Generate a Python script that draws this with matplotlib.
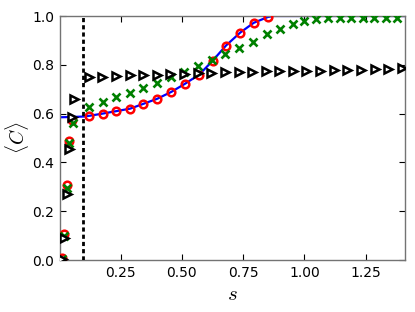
import matplotlib
matplotlib.use("Agg")
import matplotlib.pyplot as plt

plt.rcParams['mathtext.fontset'] = 'cm'
plt.rcParams['font.family'] = 'DejaVu Sans'

# ── Data ──────────────────────────────────────────────────────────────────────
# blue curve
s_line = [0.003, 0.05, 0.10, 0.123, 0.177, 0.232, 0.288, 0.343, 0.400, 0.457,
          0.514, 0.571, 0.625, 0.680, 0.738, 0.793, 0.851, 0.875, 1.42]
c_line = [0.585, 0.586, 0.588, 0.591, 0.600, 0.610, 0.620, 0.640, 0.661, 0.689,
          0.723, 0.760, 0.816, 0.879, 0.932, 0.972, 0.996, 1.000, 1.000]

# red circles
s_circ = [0.011, 0.021, 0.031, 0.041, 0.053, 0.123, 0.177, 0.232, 0.288, 0.343,
          0.400, 0.457, 0.514, 0.571, 0.625, 0.680, 0.738, 0.793, 0.851]
c_circ = [0.010, 0.105, 0.307, 0.487, 0.573, 0.591, 0.600, 0.610, 0.619, 0.640,
          0.661, 0.689, 0.723, 0.760, 0.816, 0.879, 0.932, 0.972, 0.996]

# green crosses
s_cross = [0.011, 0.021, 0.031, 0.041, 0.056, 0.120, 0.177, 0.232, 0.288, 0.343,
           0.400, 0.455, 0.509, 0.564, 0.621, 0.677, 0.732, 0.789, 0.846, 0.900,
           0.955, 0.998, 1.045, 1.095, 1.143, 1.190, 1.238, 1.285, 1.333, 1.378]
c_cross = [0.003, 0.098, 0.295, 0.480, 0.560, 0.628, 0.648, 0.666, 0.686, 0.704,
           0.726, 0.750, 0.771, 0.795, 0.819, 0.843, 0.869, 0.894, 0.925, 0.946,
           0.967, 0.980, 0.988, 0.990, 0.991, 0.991, 0.991, 0.991, 0.991, 0.991]

# black triangles
s_tri = [0.012, 0.019, 0.031, 0.039, 0.052, 0.060, 0.120, 0.176, 0.231, 0.287,
         0.342, 0.398, 0.453, 0.509, 0.564, 0.620, 0.675, 0.731, 0.786, 0.842,
         0.897, 0.953, 1.008, 1.064, 1.119, 1.175, 1.230, 1.286, 1.341, 1.397]
c_tri = [0.003, 0.091, 0.270, 0.453, 0.587, 0.659, 0.748, 0.750, 0.753, 0.757,
         0.757, 0.760, 0.762, 0.764, 0.765, 0.767, 0.769, 0.771, 0.772, 0.773,
         0.773, 0.774, 0.775, 0.776, 0.777, 0.778, 0.779, 0.781, 0.783, 0.786]

s_cut = 0.097

# ── Figure ────────────────────────────────────────────────────────────────────
fig = plt.figure(figsize=(4.15, 3.12), dpi=100)
ax = fig.add_axes([60 / 415, 52 / 312, 345 / 415, 244 / 312])

ax.plot(s_line, c_line, color='blue', lw=1.6, zorder=2)
ax.plot(s_circ, c_circ, 'o', ms=5.5, mfc='none', mec='red', mew=1.8, zorder=3)
ax.plot(s_cross, c_cross, 'x', ms=5.5, mec='green', mew=1.9, zorder=4)
ax.plot(s_tri, c_tri, '>', ms=5.5, mfc='white', mec='black', mew=1.8, zorder=5)
ax.axvline(s_cut, color='black', lw=2, dashes=[1.5, 1.1], zorder=6)

ax.set_xlim(0.003, 1.41)
ax.set_ylim(0.0, 1.0)
ax.set_xticks([0.25, 0.50, 0.75, 1.00, 1.25])
ax.set_yticks([0.0, 0.2, 0.4, 0.6, 0.8, 1.0])

ax.tick_params(direction='in', top=True, right=True, length=4, width=0.8,
               labelsize=10, pad=4)
for sp in ax.spines.values():
    sp.set_color('0.45')
    sp.set_linewidth(1.0)

ax.set_xlabel(r'$s$', fontsize=15, labelpad=3)
ax.set_ylabel(r'$\langle C\rangle$', fontsize=14, labelpad=1)

fig.savefig('out.png', dpi=100, facecolor='white')
